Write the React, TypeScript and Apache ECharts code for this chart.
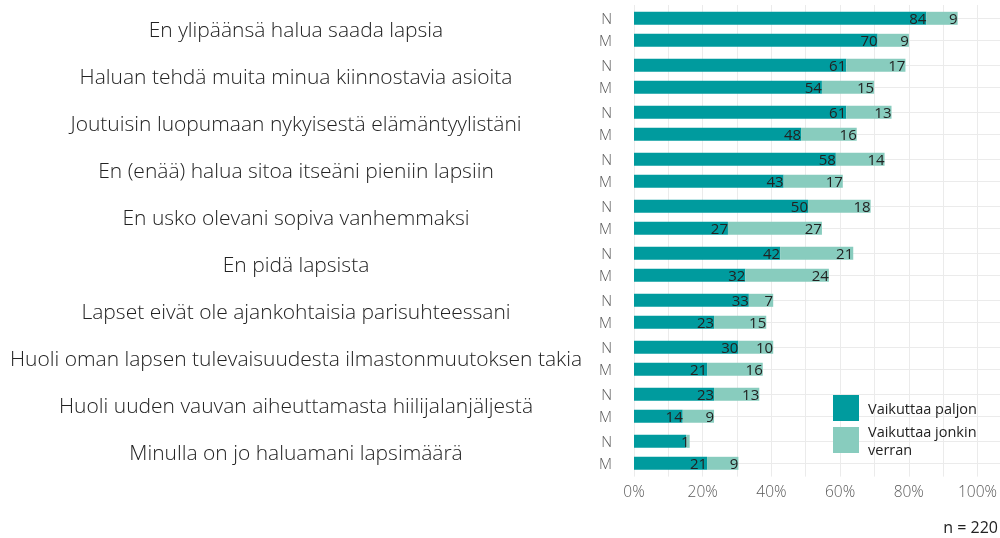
import React, { useEffect, useRef } from "react";
import * as echarts from "echarts";

const categories = [
  "En ylipäänsä halua saada lapsia",
  "Haluan tehdä muita minua kiinnostavia asioita",
  "Joutuisin luopumaan nykyisestä elämäntyylistäni",
  "En (enää) halua sitoa itseäni pieniin lapsiin",
  "En usko olevani sopiva vanhemmaksi",
  "En pidä lapsista",
  "Lapset eivät ole ajankohtaisia parisuhteessani",
  "Huoli oman lapsen tulevaisuudesta ilmastonmuutoksen takia",
  "Huoli uuden vauvan aiheuttamasta hiilijalanjäljestä",
  "Minulla on jo haluamani lapsimäärä",
];
const groups = ["N", "M"];
const seriesNames = ["Vaikuttaa paljon", "Vaikuttaa jonkin verran"];

const paljonN = [84, 61, 61, 58, 50, 42, 33, 30, 23, 15];
const paljonM = [70, 54, 48, 43, 27, 32, 23, 21, 14, 21];
const jonkinN = [9, 17, 13, 14, 18, 21, 7, 10, 13, 1];
const jonkinM = [9, 15, 16, 17, 27, 24, 15, 16, 9, 9];
// group indices where the "paljon" label of the N row is not printed
const hiddenPaljonNLabels = [9];

const xTickInterval = 20;
const footnote = "n = 220";

const DARK = "#009B9E";
const LIGHT = "#88CCBE";
const TEXT = "#222222";
const AXIS_TEXT = "#5a5a5a";
const GRID = "#ebebeb";
const FONT = "Open Sans";

const PLOT_LEFT = 634;
const PLOT_WIDTH = 348;
const EXPAND = 17;
const PANEL_TOP0 = 7.3;
const PANEL_STEP = 47;
const PANEL_H = 44;

export default function App() {
  const ref = useRef<HTMLDivElement>(null);

  useEffect(() => {
    if (!ref.current) return;
    const chart = echarts.init(ref.current, undefined, { renderer: "svg" });

    const grids: any[] = [
      {
        left: PLOT_LEFT,
        width: PLOT_WIDTH,
        top: PANEL_TOP0 - 2.3,
        height: PANEL_STEP * (categories.length - 1) + PANEL_H + 4.6,
      },
    ];
    const xAxes: any[] = [
      {
        gridIndex: 0,
        type: "value",
        min: 0,
        max: 100,
        interval: xTickInterval,
        axisLine: { show: false },
        axisTick: { show: false },
        axisLabel: {
          formatter: "{value}%",
          color: AXIS_TEXT,
          fontSize: 15.5,
          margin: 6,
          fontFamily: FONT,
          fontWeight: 300,
        },
        splitLine: { show: true, lineStyle: { color: GRID, width: 1 } },
        minorTick: { show: false, splitNumber: 2 },
        minorSplitLine: { show: true, lineStyle: { color: GRID, width: 1 } },
      },
    ];
    const yAxes: any[] = [{ gridIndex: 0, type: "value", show: false }];
    const series: any[] = [];

    categories.forEach((cat, i) => {
      const gi = i + 1;
      grids.push({
        left: PLOT_LEFT,
        width: PLOT_WIDTH,
        top: PANEL_TOP0 + PANEL_STEP * i,
        height: PANEL_H,
      });
      xAxes.push({ gridIndex: gi, type: "value", min: 0, max: 100, show: false });
      yAxes.push({
        gridIndex: gi,
        type: "category",
        data: groups,
        inverse: true,
        offset: EXPAND,
        axisLine: { show: false },
        axisTick: {
          show: true,
          inside: true,
          length: PLOT_WIDTH + 2 * EXPAND,
          alignWithLabel: true,
          lineStyle: { color: GRID, width: 1 },
        },
        axisLabel: { color: AXIS_TEXT, fontSize: 15, margin: 5, fontFamily: FONT, fontWeight: 300 },
        splitLine: { show: false },
        name: cat,
        nameLocation: "middle",
        nameRotate: 0,
        nameGap: PLOT_LEFT - EXPAND - 296,
        nameTextStyle: {
          align: "center",
          verticalAlign: "middle",
          fontSize: 21,
          color: TEXT,
          fontFamily: FONT,
          fontWeight: 300,
        },
      });
      const labelStyle = {
        show: true,
        position: "insideRight",
        distance: 0,
        color: TEXT,
        fontSize: 15,
        fontFamily: FONT,
      };
      series.push({
        type: "bar",
        name: seriesNames[0],
        xAxisIndex: gi,
        yAxisIndex: gi,
        stack: "s" + i,
        barWidth: 13,
        itemStyle: { color: DARK },
        label: labelStyle,
        data: [
          hiddenPaljonNLabels.includes(i)
            ? { value: paljonN[i], label: { show: false } }
            : paljonN[i],
          paljonM[i],
        ],
      });
      series.push({
        type: "bar",
        name: seriesNames[1],
        xAxisIndex: gi,
        yAxisIndex: gi,
        stack: "s" + i,
        barWidth: 13,
        itemStyle: { color: LIGHT },
        label: labelStyle,
        data: [jonkinN[i], jonkinM[i]],
      });
    });

    chart.setOption({
      animation: false,
      textStyle: { fontFamily: FONT },
      grid: grids,
      xAxis: xAxes,
      yAxis: yAxes,
      series,
      legend: {
        data: seriesNames,
        orient: "vertical",
        left: 828,
        top: 390,
        itemWidth: 26,
        itemHeight: 26,
        itemGap: 1,
        icon: "rect",
        selectedMode: false,
        formatter: (name: string) => name.replace("jonkin ", "jonkin\n"),
        textStyle: { fontSize: 14.5, color: TEXT, lineHeight: 18, fontFamily: FONT, padding: [0, 0, 0, 4] },
      },
      title: {
        text: footnote,
        right: 2,
        top: 519,
        padding: 0,
        textStyle: { fontSize: 16, fontWeight: "normal", color: TEXT, fontFamily: FONT },
      },
    });

    return () => chart.dispose();
  }, []);

  return (
    <div
      ref={ref}
      style={{ position: "fixed", left: 0, top: 0, width: 1000, height: 538 }}
    />
  );
}
